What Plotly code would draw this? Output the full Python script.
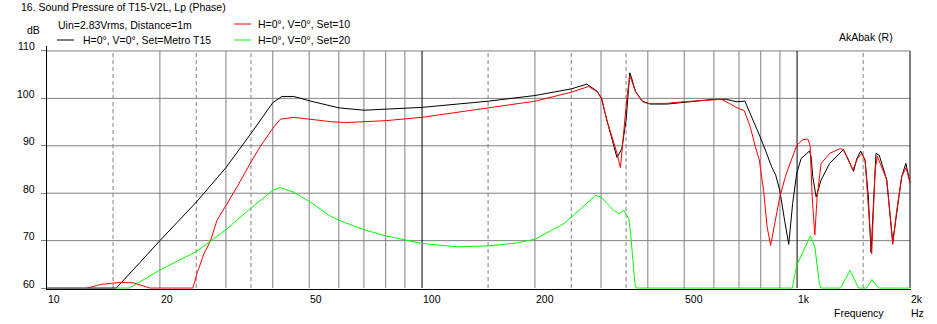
import math
import plotly.graph_objects as go

# ---------------- data ----------------
FREQ_BLACK = [10, 15.3, 17.7, 20, 25, 30, 35, 40, 42.3, 45.5, 50, 54.7, 60, 70, 80, 90, 100,
              150, 200, 250, 275, 293, 301, 311, 321, 331, 341, 350, 354, 358, 362, 371, 387,
              400, 406, 450, 500, 600, 648, 688, 726, 758, 793, 823, 855, 877, 899, 923, 950,
              973, 998, 1025, 1079, 1090, 1101, 1124, 1159, 1222, 1329, 1371, 1414, 1443, 1478,
              1518, 1549, 1575, 1598, 1623, 1656, 1734, 1799, 1844, 1901, 1950, 2000]
SPL_BLACK = [60, 60, 65.4, 70.0, 78.1, 85.4, 92.6, 99.1, 100.4, 100.4, 99.5, 98.8, 98.0, 97.5,
             97.7, 97.9, 98.1, 99.4, 100.6, 102.0, 103.0, 101.5, 100.0, 95.4, 91.2, 87.5, 89.4,
             95.4, 100.4, 105.4, 104.3, 101.4, 99.4, 98.9, 98.8, 98.8, 99.2, 99.8, 99.8, 99.3,
             99.4, 96.1, 92.3, 89.1, 85.6, 83.8, 80.6, 75.0, 69.2, 77.8, 84.2, 87.3, 88.9, 87.7,
             83.5, 79.2, 82.8, 86.3, 89.2, 87.0, 84.6, 87.3, 88.9, 87.0, 79.2, 67.5, 77.8, 88.4,
             88.0, 82.8, 69.7, 76.4, 83.5, 86.3, 82.2]

FREQ_RED = [12.8, 14.0, 15.7, 17.0, 18.8, 24.5, 25.1, 26.2, 27.3, 28.4, 30, 32.1, 35, 37.0, 40,
            41.9, 45.5, 50, 56.9, 62.6, 70, 80, 100, 150, 200, 250, 278, 293, 301, 311, 324,
            331, 338, 345, 352, 358, 362, 371, 387, 400, 442, 500, 600, 629, 661, 688, 723, 750,
            774, 793, 814, 832, 850, 877, 899, 933, 973, 998, 1036, 1068, 1083, 1097, 1115, 1131,
            1159, 1222, 1302, 1329, 1371, 1408, 1449, 1487, 1518, 1549, 1581, 1614, 1636, 1734,
            1799, 1844, 1901, 1953, 2000]
SPL_RED = [60, 60.8, 61.2, 61.1, 60, 60, 63.0, 67.2, 70.0, 74.3, 77.4, 81.3, 86.6, 89.8, 93.7,
           95.6, 96.0, 95.6, 95.1, 94.9, 95.1, 95.3, 96.0, 97.9, 99.4, 101.3, 102.5, 101.4, 100.0,
           95.4, 90.8, 88.4, 85.4, 92.6, 100.4, 104.7, 103.8, 101.4, 99.3, 98.9, 98.9, 99.3, 99.8,
           99.8, 98.9, 98.1, 97.4, 94.0, 89.8, 87.0, 80.6, 72.9, 69.0, 74.3, 79.2, 83.8, 88.0,
           90.1, 91.3, 91.4, 90.1, 79.2, 71.2, 79.2, 86.3, 88.4, 89.4, 89.2, 87.0, 84.9, 87.3,
           88.4, 87.0, 77.8, 67.2, 84.9, 87.8, 82.8, 69.2, 76.4, 83.5, 85.4, 82.1]

FREQ_GREEN = [15.3, 16.6, 20, 25, 27.3, 30, 35, 40, 41.9, 45.5, 50, 56.9, 60, 70, 80, 90, 100,
              124, 150, 179, 200, 239, 250, 290, 300, 324, 335, 345, 356, 360, 365, 370, 373,
              970, 998, 1036, 1085, 1115, 1147, 1159, 1305, 1385, 1458, 1533, 1583, 1650, 2000]
SPL_GREEN = [60, 60, 63.8, 67.7, 69.9, 72.3, 76.9, 80.6, 81.2, 80.2, 78.3, 75.2, 74.3, 72.3,
             71.0, 70.1, 69.4, 68.7, 68.9, 69.5, 70.3, 73.6, 75.0, 79.5, 79.2, 76.4, 75.7, 76.4,
             74.6, 71.5, 65.8, 60.6, 60, 60, 64.8, 67.6, 71.0, 68.7, 60.9, 60, 60, 63.7, 60, 60,
             61.8, 60, 60]

Y_TICKS = [60, 70, 80, 90, 100, 110]
X_LABEL_VALS = [10, 20, 50, 100, 200, 500, 1000, 2000]
X_LABEL_TEXT = ["10", "20", "50", "100", "200", "500", "1k", "2k"]
GRID_SOLID = [20, 30, 40, 50, 60, 70, 80, 90, 200, 300, 400, 500, 600, 700, 800, 900]
GRID_DASHED = [15, 25, 35, 150, 250, 350, 1500]
GRID_BLACK = [100, 1000, 2000]
GRID_H = [70, 80, 90, 100, 110]

SERIES = [
    ("H=0°, V=0°, Set=Metro T15", FREQ_BLACK, SPL_BLACK, "#000000"),
    ("H=0°, V=0°, Set=10", FREQ_RED, SPL_RED, "#ff0000"),
    ("H=0°, V=0°, Set=20", FREQ_GREEN, SPL_GREEN, "#00ff00"),
]

# ---------------- layout geometry ----------------
W, H = 937, 324
L, R, T, B = 47, 26, 50, 35
PW, PH = W - L - R, H - T - B
XR = [1, math.log10(2000) + 0.0027]
YR = [59.8, 110.2]
FONT = "Liberation Sans, Arial, sans-serif"
FS = 10.5


def px(x):
    return (x - L) / PW


def py(y):
    return (H - B - y) / PH


fig = go.Figure()


def vlines(vals, color, dash=None):
    xs, ys = [], []
    for v in vals:
        xs += [v, v, None]
        ys += [60, 110, None]
    fig.add_trace(go.Scatter(x=xs, y=ys, mode="lines", hoverinfo="skip", showlegend=False,
                             line=dict(color=color, width=1, dash=dash)))


def hlines(vals, color):
    xs, ys = [], []
    for v in vals:
        xs += [10, 2000, None]
        ys += [v, v, None]
    fig.add_trace(go.Scatter(x=xs, y=ys, mode="lines", hoverinfo="skip", showlegend=False,
                             line=dict(color=color, width=1)))


hlines(GRID_H, "#808080")
vlines(GRID_SOLID, "#808080")
vlines(GRID_DASHED, "#808080", dash="4px,3px")
vlines(GRID_BLACK, "#000000")

for name, f, v, c in SERIES:
    fig.add_trace(go.Scatter(x=f, y=v, mode="lines", name=name, showlegend=False,
                             line=dict(color=c, width=1)))

ann = []


def text(t, x, y, xanchor="left"):
    ann.append(dict(text=t, xref="paper", yref="paper", x=px(x), y=py(y), xanchor=xanchor,
                    yanchor="middle", showarrow=False,
                    font=dict(family=FONT, size=FS, color="#000000")))


text("16. Sound Pressure of T15-V2L, Lp (Phase)", 19, 7.5)
text("Uin=2.83Vrms, Distance=1m", 56, 24.5)
text("dB", 25, 30.5)
text(SERIES[0][0], 80.5, 40.5)
text(SERIES[1][0], 256, 24)
text(SERIES[2][0], 256, 40.5)
text("AkAbak (R)", 837, 37)
text("Frequency", 832, 312.5)
text("Hz", 909, 312.5)

for v in Y_TICKS:
    ann.append(dict(text=str(v), xref="paper", yref="y", x=0, y=v, xanchor="right",
                    yanchor="middle", xshift=-10, yshift=4.5, showarrow=False,
                    font=dict(family=FONT, size=FS, color="#000000")))

for v, t in zip(X_LABEL_VALS, X_LABEL_TEXT):
    ann.append(dict(text=t, xref="x", yref="paper", x=math.log10(v), y=0, xanchor="left",
                    yanchor="middle", xshift=-1, yshift=-(299 - (H - B)), showarrow=False,
                    font=dict(family=FONT, size=FS, color="#000000")))

shapes = []
for (x0, x1, y0, color) in [(57, 74, 40, SERIES[0][3]), (234, 251, 24, SERIES[1][3]),
                            (234, 251, 40, SERIES[2][3])]:
    shapes.append(dict(type="line", xref="paper", yref="paper", x0=px(x0), x1=px(x1),
                       y0=py(y0), y1=py(y0), line=dict(color=color, width=1)))
# left axis extends a little above the 110 line
shapes.append(dict(type="line", xref="paper", yref="paper", x0=px(46.5), x1=px(46.5),
                   y0=1, y1=py(46), line=dict(color="#000000", width=1)))

fig.update_layout(
    width=W, height=H, margin=dict(l=L, r=R, t=T, b=B, pad=0),
    paper_bgcolor="#ffffff", plot_bgcolor="#ffffff",
    showlegend=False, annotations=ann, shapes=shapes,
    font=dict(family=FONT, size=FS, color="#000000"),
    xaxis=dict(type="log", range=XR, showgrid=False, zeroline=False, showticklabels=False,
               ticks="", showline=True, linecolor="#000000", linewidth=1, fixedrange=True),
    yaxis=dict(range=YR, showgrid=False, zeroline=False, showticklabels=False,
               tickvals=Y_TICKS, ticks="outside", ticklen=5, tickcolor="#808080",
               showline=True, linecolor="#000000", linewidth=1, fixedrange=True),
)

fig.write_html(
    "out.html",
    config={"displayModeBar": False, "staticPlot": True},
    post_script="document.body.style.margin='0';document.body.style.padding='0';"
                "document.body.style.overflow='hidden';",
)
